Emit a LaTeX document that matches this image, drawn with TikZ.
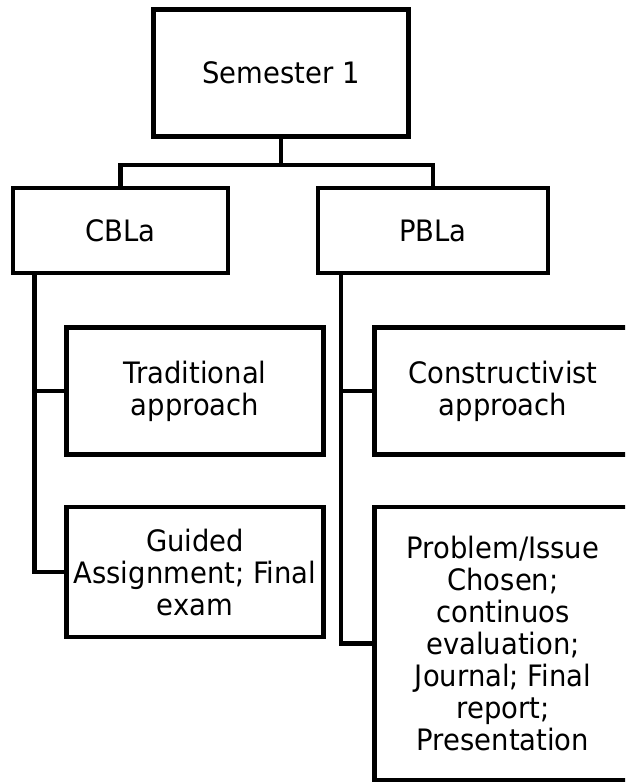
\documentclass[tikz,border=0pt]{standalone}
\usepackage{fontspec}
\setmainfont{DejaVu Sans}[FakeStretch=0.93]
\begin{document}
\begin{tikzpicture}[x=1pt,y=-1pt,
  box/.style={draw=black, line width=4.8pt, rectangle, inner sep=0pt, align=center,
    font=\fontsize{29.5}{32}\selectfont, fill=white},
  conn/.style={draw=black, line width=4.8pt}]
\useasboundingbox (0,0) rectangle (625,782);
\clip (0,0) rectangle (625,782);
\fill[white] (0,0) rectangle (625,782);
\node[box, minimum width=255pt, minimum height=127pt] (sem) at (281,73) {Semester 1};
\node[box, minimum width=215pt, minimum height=85pt] (cbla) at (120.5,230.5) {CBLa};
\node[box, minimum width=230pt, minimum height=85pt] (pbla) at (433,230.5) {PBLa};
\node[box, minimum width=257pt, minimum height=127pt] (trad) at (195,391) {Traditional\\approach};
\node[box, minimum width=257pt, minimum height=130pt] (guid) at (195,572) {Guided\\Assignment; Final\\exam};
\node[box, minimum width=257pt, minimum height=127pt] (cons) at (503,391) {Constructivist\\approach};
\node[box, minimum width=257pt, minimum height=273pt] (prob) at (503,643.5) {Problem/Issue\\Chosen;\\continuos\\evaluation;\\Journal; Final\\report;\\Presentation};
\draw[conn] (sem.south) -- ++(0,26) -| (cbla.north);
\draw[conn] (sem.south) -- ++(0,26) -| (pbla.north);
\draw[conn] ([xshift=-86pt]cbla.south) |- (trad.west);
\draw[conn] ([xshift=-86pt]cbla.south) |- (guid.west);
\draw[conn] ([xshift=-92pt]pbla.south) |- (cons.west);
\draw[conn] ([xshift=-92pt]pbla.south) |- (prob.west);
\end{tikzpicture}
\end{document}
